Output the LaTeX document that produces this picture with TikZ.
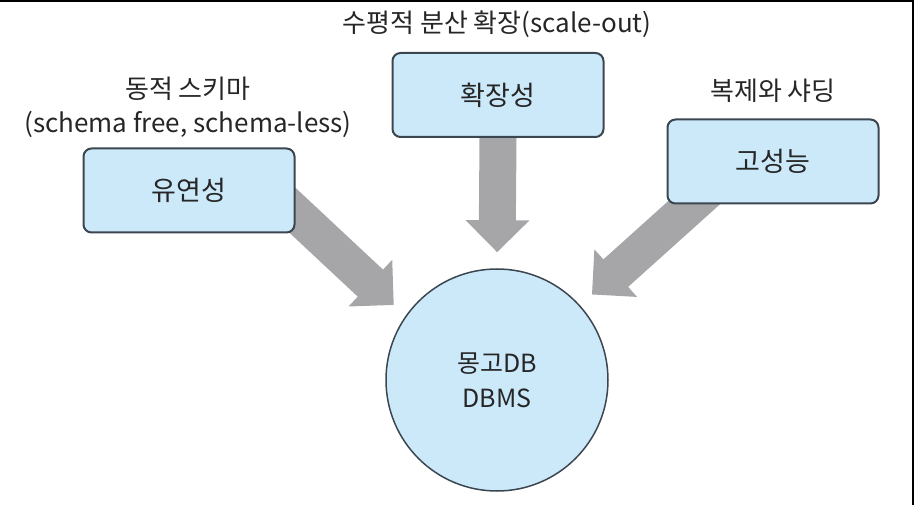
\documentclass[tikz,border=0pt]{standalone}
\usepackage{fontspec}
\setmainfont{Noto Sans CJK KR}
\usetikzlibrary{arrows.meta,backgrounds}
\definecolor{boxfill}{RGB}{204,233,250}
\definecolor{boxline}{RGB}{60,70,80}
\definecolor{arrowgray}{RGB}{166,166,168}
\tikzset{
  feature/.style={draw=boxline, fill=boxfill, line width=2pt, rounded corners=8pt,
    minimum width=211pt, minimum height=84pt, text=black!85,
    font=\fontsize{27}{30}\selectfont},
  hub/.style={circle, draw=boxline, fill=boxfill, line width=1.5pt, minimum size=222pt,
    align=center, text=black!85, font=\fontsize{25}{35}\selectfont},
  note/.style={align=center, text=black!85, font=\fontsize{26}{34}\selectfont},
  flow/.style={draw=arrowgray, line width=37pt, -{Triangle[width=62pt,length=32pt]},
    shorten >=16pt, shorten <=-30pt},
}
\begin{document}
\begin{tikzpicture}[x=1pt,y=-1pt]
  \useasboundingbox (0,0) rectangle (914,505);
  \fill[black] (0,0) rectangle (914,2);
  \fill[black] (912,0) rectangle (914,505);
  % labels
  \node[note] (scalenote) at (497,24) {수평적 분산 확장(scale-out)};
  \node[note] (flexnote) at (188,107) {동적 스키마\\(schema free, schema-less)};
  \node[note] (perfnote) at (773,91) {복제와 샤딩};
  % boxes
  \node[feature] (flex) at (189,190.5) {유연성};
  \node[feature] (scale) at (498,95) {확장성};
  \node[feature] (perf) at (773,161.5) {고성능};
  \node[hub] (db) at (497,380) {몽고DB\\DBMS};
  \begin{scope}[on background layer]
    \draw[flow] (flex.-12.5) -- (db.145);
    \draw[flow] (scale.south) -- (db.north);
    \draw[flow] (perf.208) -- (db.42);
  \end{scope}
\end{tikzpicture}
\end{document}
